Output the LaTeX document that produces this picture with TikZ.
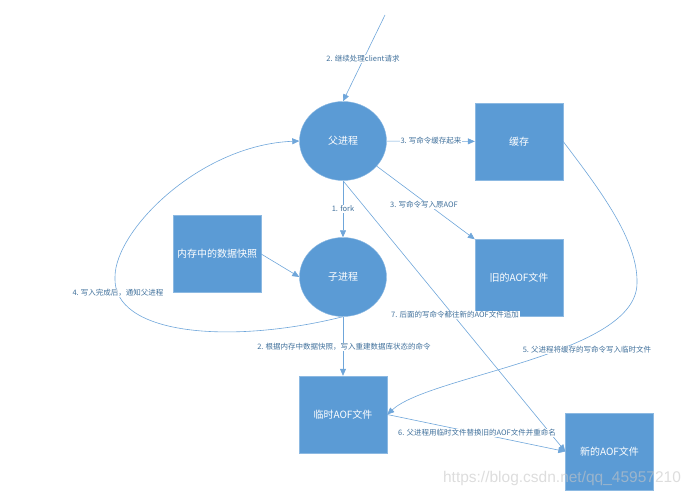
\documentclass[tikz,border=0pt]{standalone}
\usepackage{fontspec}
\setmainfont{Noto Sans CJK SC}
\newfontfamily\wmfont{Liberation Sans}
\usepackage{xcolor}
\usepackage{tikz}
\usetikzlibrary{shapes.geometric, arrows.meta}
\definecolor{boxblue}{HTML}{5B9BD5}
\definecolor{lineblue}{HTML}{6FA6DA}
\definecolor{textblue}{HTML}{41719C}
\tikzstyle{link} = [draw=lineblue, line width=0.6pt, -{Triangle[length=7pt,width=6pt]}]

\begin{document}
\begin{tikzpicture}[x=1pt, y=-1pt]
    \tikzstyle{proc}=[ellipse, fill=boxblue, draw=boxblue!70!white, minimum width=87pt, minimum height=79pt, text=white, font=\fontsize{10}{12}\selectfont]
    \tikzstyle{file}=[rectangle, fill=boxblue, draw=boxblue!70!white, minimum width=88pt, minimum height=77pt, text=white, font=\fontsize{10}{12}\selectfont]
    \tikzstyle{note}=[fill=white, inner sep=0.8pt, text=textblue, font=\fontsize{7.5}{9}\selectfont]

    \useasboundingbox (0,0) rectangle (694,498);

    \node[proc] (parent) at (343,141) {父进程};
    \node[proc] (child) at (343,277) {子进程};
    \node[file] (cache) at (519,141.5) {缓存};
    \node[file] (oldaof) at (519,278) {旧的AOF文件};
    \node[file] (snapshot) at (217,254) {内存中的数据快照};
    \node[file] (tmpaof) at (343,414.5) {临时AOF文件};
    \node[file] (newaof) at (609.5,451.5) {新的AOF文件};
    \coordinate (client) at (385,15);

    \draw[link] (client) -- (parent.north);
    \draw[link] (parent) -- (cache);
    \draw[link] (parent) -- (oldaof.north west);
    \draw[link] (parent) -- (child);
    \draw[link] (parent.south) -- (newaof.west);
    \draw[link] (snapshot.east) -- (child.west);
    \draw[link] (child) -- (tmpaof);
    \draw[link] (tmpaof.east) -- (newaof.west);
    \draw[link] (child.south) .. controls (230,345) and (112,335) .. (115,277)
        .. controls (115,230) and (200,145) .. (parent.west);
    \draw[link] (cache.east) .. controls (600,190) and (638,240) .. (637,283)
        .. controls (637,355) and (430,375) .. (tmpaof.east);

    \node[note] (lclient) at (363,59) {2. 继续处理client请求};
    \node[note] (lcache) at (431,141) {3. 写命令缓存起来};
    \node[note] (loldaof) at (424,205) {3. 写命令写入原AOF};
    \node[note] (lfork) at (343,209) {1. fork};
    \node[note] (lrebuild) at (344,347) {2. 根据内存中数据快照，写入重建数据库状态的命令};
    \node[note] (lnotify) at (118,293) {4. 写入完成后，通知父进程};
    \node[note] (lappend) at (455,315) {7. 后面的写命令都往新的AOF文件追加};
    \node[note] (lflush) at (587,350) {5. 父进程将缓存的写命令写入临时文件};
    \node[note] (lreplace) at (477,433) {6. 父进程用临时文件替换旧的AOF文件并重命名};

    \node[text=gray!45, opacity=0.6, font=\wmfont\fontsize{15.5}{18}\selectfont] (mark) at (562,478) {https://blog.csdn.net/qq\_45957210};
\end{tikzpicture}
\end{document}
